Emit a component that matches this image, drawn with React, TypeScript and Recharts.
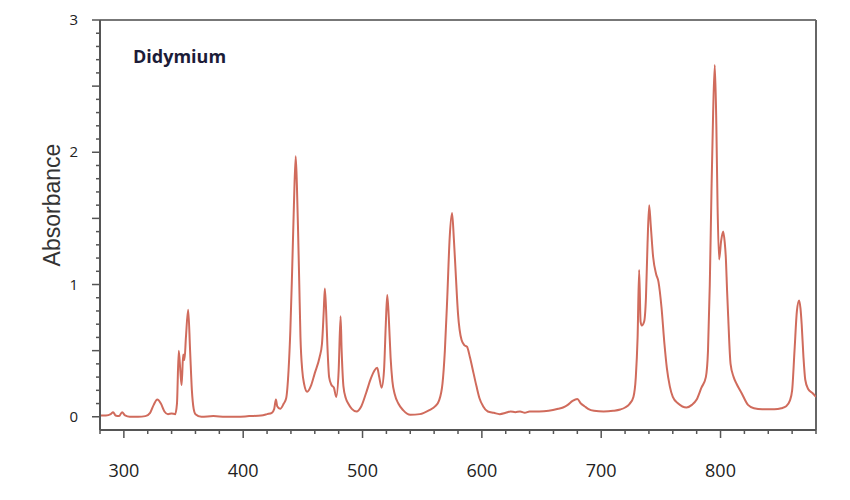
import { LineChart, Line, XAxis, YAxis, ReferenceLine } from 'recharts';

// wavelength (nm)
const wavelength = [
  280, 285, 289, 291, 293, 296, 298.5, 301, 305, 312, 318, 322, 325, 328, 331, 334, 337, 340, 343,
  344.5, 346, 347.3, 348.4, 349.7, 350.8, 352, 353.9, 355.5, 357, 358.5, 360, 365, 375, 385, 395,
  405, 415, 420, 424, 426, 427.4, 428.5, 431, 434, 436, 438, 439.5, 441, 442.5, 444, 445, 446, 447,
  448, 449.5, 451, 453.6, 457, 460, 464, 466, 467.5, 468.4, 469.5, 470.5, 472, 474, 476, 478, 480,
  481.6, 482.5, 484, 486, 488, 491, 495, 499, 503, 507, 510, 512.3, 514, 516, 518, 519.5, 520.7,
  522, 523.5, 525, 527, 530, 534, 540, 548, 556, 561, 564, 567, 569, 571, 573, 575, 576.5, 578,
  580, 583, 585.5, 587.5, 590, 593, 595.5, 598, 601, 605, 610, 615, 620, 624, 628, 632, 636, 640,
  648, 656, 664, 668, 672, 676, 680, 683, 686, 689, 694, 702, 710, 716, 720, 724, 727, 729, 730.5,
  731.8, 733, 734, 736, 737.5, 738.8, 740.2, 741.5, 743.5, 746, 748, 750.5, 753, 755, 757.5, 760,
  764.5, 771.5, 776, 780, 784, 787.7, 789.5, 791, 792.4, 793.8, 795.2, 796.5, 797.5, 798.8, 800.5,
  802.2, 803.5, 804.4, 805.5, 806.4, 808.4, 811, 813.4, 817.6, 823, 828, 835, 845, 851, 855, 858,
  860, 862, 864, 865.8, 867, 868, 869.5, 871, 873.4, 877, 880,
];

const absorbance = [
  0.01, 0.01, 0.02, 0.035, 0.01, 0.005, 0.035, 0.01, 0.0, 0.0, 0.005, 0.03, 0.09, 0.13, 0.1, 0.04, 0.02, 0.025, 0.02,
  0.1, 0.5, 0.35, 0.24, 0.47, 0.43, 0.6, 0.81, 0.5, 0.2, 0.06, 0.02, 0.0, 0.005, 0.0, 0.0,
  0.005, 0.01, 0.02, 0.03, 0.06, 0.13, 0.08, 0.06, 0.1, 0.14, 0.35, 0.65, 1.1, 1.6, 1.97, 1.75, 1.4, 1.0,
  0.6, 0.35, 0.25, 0.19, 0.24, 0.33, 0.45, 0.55, 0.8, 0.97, 0.8, 0.55, 0.3, 0.24, 0.22, 0.15, 0.35,
  0.76, 0.5, 0.23, 0.14, 0.1, 0.06, 0.04, 0.08, 0.18, 0.29, 0.35, 0.37, 0.3, 0.22, 0.35, 0.7, 0.92,
  0.75, 0.45, 0.27, 0.17, 0.1, 0.05, 0.015, 0.02, 0.05, 0.08, 0.12, 0.25, 0.5, 0.9, 1.35, 1.54, 1.35, 1.1,
  0.78, 0.58, 0.54, 0.53, 0.45, 0.33, 0.23, 0.14, 0.08, 0.04, 0.03, 0.02, 0.03, 0.04, 0.035, 0.04, 0.03, 0.04,
  0.04, 0.045, 0.06, 0.07, 0.09, 0.12, 0.135, 0.1, 0.08, 0.06, 0.045, 0.04, 0.045, 0.055, 0.07, 0.1, 0.15, 0.3, 0.6,
  1.11, 0.72, 0.69, 0.72, 0.9, 1.3, 1.6, 1.45, 1.21, 1.08, 1.02, 0.83, 0.55, 0.37, 0.23, 0.15,
  0.1, 0.07, 0.09, 0.13, 0.22, 0.3, 0.5, 1.0, 1.7, 2.3, 2.66, 2.2, 1.6, 1.19, 1.33,
  1.4, 1.32, 1.21, 0.95, 0.76, 0.4, 0.3, 0.25, 0.18, 0.09, 0.065, 0.057, 0.057, 0.065, 0.08, 0.12,
  0.2, 0.5, 0.8, 0.88, 0.82, 0.7, 0.45, 0.28, 0.21, 0.18, 0.15,
];

const xTicks = [
  280, 300, 320, 340, 360, 380, 400, 420, 440, 460, 480, 500, 520, 540, 560, 580,
  600, 620, 640, 660, 680, 700, 720, 740, 760, 780, 800, 820, 840, 860, 880,
];
const yTicks = [
  0, 0.1, 0.2, 0.3, 0.4, 0.5, 0.6, 0.7, 0.8, 0.9, 1, 1.1, 1.2, 1.3, 1.4, 1.5, 1.6, 1.7, 1.8, 1.9,
  2, 2.1, 2.2, 2.3, 2.4, 2.5, 2.6, 2.7, 2.8, 2.9, 3,
];

const data = wavelength.map((nm, i) => ({ nm, a: absorbance[i] }));

const axisGray = '#555';

function XTick({ x, y, payload }: any) {
  const major = payload.value % 100 === 0;
  return (
    <g>
      <line x1={x} y1={y} x2={x} y2={y + (major ? 8 : 4)} stroke={axisGray} strokeWidth={1.5} />
      {major && payload.value !== 280 && (
        <text x={x} y={y + 47} textAnchor="middle" fontSize={18} fill="#222"
              fontFamily="'Open Sans', sans-serif">
          {payload.value}
        </text>
      )}
    </g>
  );
}

function YTick({ x, y, payload }: any) {
  const tenths = Math.round(payload.value * 10);
  const major = tenths % 5 === 0;
  const labeled = tenths % 10 === 0;
  return (
    <g>
      <line x1={x} y1={y} x2={x - (major ? 8 : 4)} y2={y} stroke={axisGray} strokeWidth={1.5} />
      {labeled && (
        <text x={x - 22} y={y + 5} textAnchor="end" fontSize={15} fill="#222"
              fontFamily="'Open Sans', sans-serif">
          {tenths / 10}
        </text>
      )}
    </g>
  );
}

export default function App() {
  return (
    <div style={{ position: 'absolute', left: 0, top: 0, width: 850, height: 500, background: '#fff' }}>
      <LineChart width={850} height={500} data={data}
                 margin={{ top: 20, right: 34, bottom: 20, left: 40 }}>
        <XAxis dataKey="nm" type="number" domain={[280, 880]} ticks={xTicks}
               allowDataOverflow height={50} tickSize={0} tickMargin={0} tickLine={false}
               axisLine={{ stroke: axisGray, strokeWidth: 2 }} tick={<XTick />} interval={0} />
        <YAxis type="number" domain={[-0.1, 3]} ticks={yTicks} allowDataOverflow width={60}
               tickSize={0} tickMargin={0} tickLine={false} interval={0}
               axisLine={{ stroke: axisGray, strokeWidth: 2 }} tick={<YTick />} />
        <ReferenceLine y={3} stroke="#777" strokeWidth={2} />
        <ReferenceLine x={880} stroke="#666" strokeWidth={2} />
        <Line dataKey="a" type="monotone" stroke="#d06b5c" strokeWidth={2} dot={false}
              isAnimationActive={false} />
      </LineChart>
      <div style={{ position: 'absolute', left: 133, top: 44, fontFamily: "'Open Sans', sans-serif",
                    fontWeight: 700, fontSize: 18, color: '#1c1c38' }}>
        Didymium
      </div>
      <div style={{ position: 'absolute', left: 52, top: 205, transform: 'translate(-50%, -50%) rotate(-90deg)',
                    fontFamily: "'Liberation Sans', Arial, sans-serif", fontSize: 23, color: '#333',
                    whiteSpace: 'nowrap' }}>
        Absorbance
      </div>
    </div>
  );
}
